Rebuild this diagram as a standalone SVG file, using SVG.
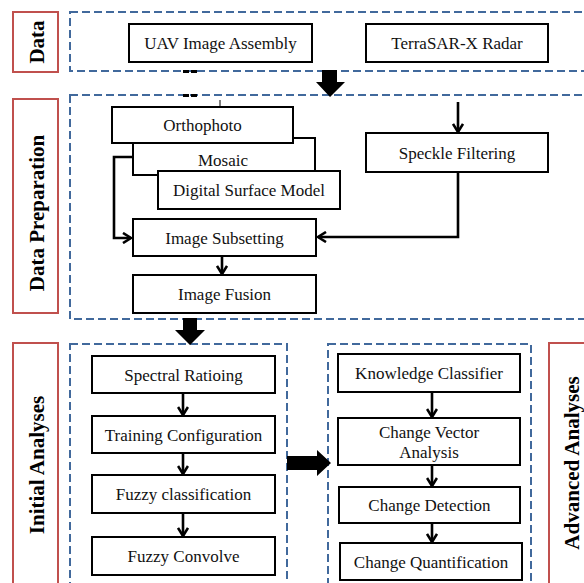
<svg xmlns="http://www.w3.org/2000/svg" width="584" height="583" viewBox="0 0 584 583">
<defs>
<marker id="ah" viewBox="0 0 12 12" refX="10" refY="6" markerWidth="12" markerHeight="12" markerUnits="userSpaceOnUse" orient="auto">
<polyline points="2,1 10,6 2,11" fill="none" stroke="#000" stroke-width="2.6"/>
</marker>
<style>
.lab{fill:#fff;stroke:#c0504d;stroke-width:2}
.dash{fill:none;stroke:#41699c;stroke-width:2;stroke-dasharray:8,4}
.box{fill:#fff;stroke:#000;stroke-width:2}
.t{font-family:"Liberation Serif","Times New Roman",serif;font-size:17px;fill:#111;text-anchor:middle}
.lt{font-family:"Liberation Serif","Times New Roman",serif;font-size:21px;font-weight:bold;fill:#000;text-anchor:middle}
.c{fill:none;stroke:#000;stroke-width:2.6;marker-end:url(#ah)}
</style>
</defs>
<rect width="584" height="583" fill="#fff"/>

<g id="lanes">
<rect class="lab" x="13" y="12" width="45" height="60"/>
<text class="lt" transform="translate(44,42) rotate(-90)">Data</text>
<rect class="dash" x="70" y="12" width="530" height="59"/>

<rect class="lab" x="13" y="99" width="45" height="214"/>
<text class="lt" transform="translate(44,213) rotate(-90)">Data Preparation</text>
<rect class="dash" x="70" y="95" width="530" height="224"/>

<rect class="lab" x="13" y="343" width="45" height="260"/>
<text class="lt" transform="translate(44,465) rotate(-90)">Initial Analyses</text>
<rect class="dash" x="70" y="344" width="217" height="260"/>

<rect class="dash" x="328" y="344" width="203" height="260"/>
<rect class="lab" x="549" y="343" width="60" height="260"/>
<text class="lt" transform="translate(579,463) rotate(-90)">Advanced Analyses</text>
</g>

<g id="connectors">
<rect x="183" y="70" width="6" height="3" fill="#000"/>
<rect x="191" y="70" width="6" height="3" fill="#000"/>
<rect x="183" y="94" width="6" height="3" fill="#000"/>
<rect x="191" y="94" width="6" height="3" fill="#000"/>
<polygon points="322,70 337,70 337,82 345,82 330,97 316,82 322,82" fill="#000"/>
<polygon points="183,318 197,318 197,330 205,330 190,345 175,330 183,330" fill="#000"/>
<polygon points="287,456 317,456 317,450 331,463 317,476 317,470 287,470" fill="#000"/>
<line x1="220" y1="100" x2="220" y2="107" stroke="#000" stroke-width="1"/>
<line class="c" x1="458" y1="102" x2="458" y2="132"/>
<polyline class="c" points="133,157 114,157 114,238 131,238"/>
<polyline class="c" points="458,172 458,237 318,237"/>
<line class="c" x1="222" y1="256" x2="222" y2="274"/>
<line class="c" x1="183" y1="393" x2="183" y2="415"/>
<line class="c" x1="183" y1="453" x2="183" y2="474"/>
<line class="c" x1="183" y1="513" x2="183" y2="536"/>
<line class="c" x1="432" y1="392" x2="432" y2="417"/>
<line class="c" x1="432" y1="465" x2="432" y2="486"/>
<line class="c" x1="432" y1="523" x2="432" y2="542"/>
</g>

<g id="uav"><rect class="box" x="129" y="24" width="183" height="38"/><text class="t" x="220.5" y="49">UAV Image Assembly</text></g>
<g id="terrasar"><rect class="box" x="366" y="24" width="182" height="38"/><text class="t" x="457" y="49">TerraSAR-X Radar</text></g>

<g id="mosaic"><rect class="box" x="133" y="138" width="182" height="37"/><text class="t" x="223" y="166">Mosaic</text></g>
<g id="dsm"><rect class="box" x="158" y="171" width="182" height="38"/><text class="t" x="249" y="196">Digital Surface Model</text></g>
<g id="orthophoto"><rect class="box" x="112" y="107" width="181" height="36"/><text class="t" x="202.5" y="131">Orthophoto</text></g>
<g id="speckle"><rect class="box" x="366" y="133" width="182" height="39"/><text class="t" x="457" y="159">Speckle Filtering</text></g>
<g id="subset"><rect class="box" x="133" y="219" width="183" height="37"/><text class="t" x="224.5" y="244">Image Subsetting</text></g>
<g id="fusion"><rect class="box" x="133" y="275" width="183" height="38"/><text class="t" x="224.5" y="300">Image Fusion</text></g>

<g id="spectral"><rect class="box" x="92" y="356" width="183" height="37"/><text class="t" x="183.5" y="381">Spectral Ratioing</text></g>
<g id="training"><rect class="box" x="92" y="416" width="183" height="37"/><text class="t" x="183.5" y="441">Training Configuration</text></g>
<g id="fuzzycls"><rect class="box" x="92" y="475" width="183" height="38"/><text class="t" x="183.5" y="500">Fuzzy classification</text></g>
<g id="convolve"><rect class="box" x="92" y="537" width="183" height="38"/><text class="t" x="183.5" y="562">Fuzzy Convolve</text></g>

<g id="knowledge"><rect class="box" x="338" y="354" width="182" height="38"/><text class="t" x="429" y="379">Knowledge Classifier</text></g>
<g id="cva"><rect class="box" x="338" y="418" width="182" height="47"/><text class="t" x="429" y="438">Change Vector</text><text class="t" x="429" y="458">Analysis</text></g>
<g id="detection"><rect class="box" x="339" y="487" width="181" height="36"/><text class="t" x="429.5" y="511">Change Detection</text></g>
<g id="quant"><rect class="box" x="340" y="543" width="182" height="37"/><text class="t" x="431" y="568">Change Quantification</text></g>
</svg>
